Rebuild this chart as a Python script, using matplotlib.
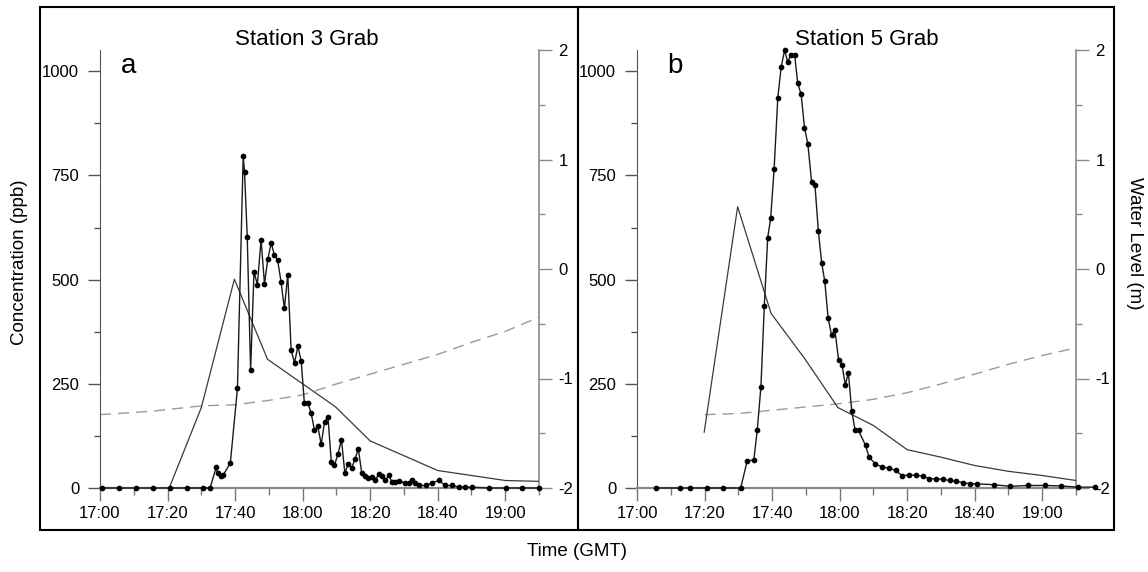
import numpy as np
import matplotlib
matplotlib.use('Agg')
import matplotlib.pyplot as plt
from matplotlib.patches import Rectangle
from matplotlib.ticker import FixedLocator

plt.rcParams['font.family'] = ['Liberation Sans', 'DejaVu Sans']
plt.rcParams['axes.unicode_minus'] = False

## Station 3 grab samples (minutes after 17:00 GMT, ppb)
t3 = [0.6, 5.6, 10.8, 15.7, 20.6, 25.7, 30.6, 32.6, 34.4, 34.8, 35.8, 36.4, 38.6, 40.7,
      42.4, 42.8, 43.6, 44.6, 45.6, 46.6, 47.7, 48.7, 49.7, 50.7, 51.6, 52.6, 53.6, 54.6,
      55.6, 56.6, 57.6, 58.6, 59.6, 60.5, 61.5, 62.5, 63.5, 64.5, 65.5, 66.5, 67.5, 68.5,
      69.4, 70.5, 71.5, 72.5, 73.5, 74.5, 75.5, 76.5, 77.5, 78.5, 79.4, 80.4, 81.5, 82.5,
      83.5, 84.5, 85.5, 86.5, 87.5, 88.4, 90.4, 91.4, 92.4, 93.4, 94.4, 96.4, 98.3, 100.3,
      102.3, 104.3, 106.3, 108.2, 110.2, 115.2, 120.1, 125.0, 130.0]
c3 = [0, 0, 0, 0, 0, 0, 0, 0, 50, 35, 28, 30, 60, 239,
      796, 758, 603, 283, 519, 488, 596, 490, 550, 588, 560, 547, 495, 431,
      512, 331, 300, 340, 304, 205, 205, 181, 139, 148, 105, 159, 171, 62,
      54, 82, 116, 36, 58, 48, 69, 94, 36, 28, 24, 26, 18, 33,
      28, 18, 30, 14, 14, 17, 12, 12, 18, 13, 6, 6, 12, 18,
      6, 6, 2, 2, 2, 0, 0, 0, 0]

## Station 3 solid curve (ppb)
t3_line = [20.5, 30.0, 39.8, 49.6, 69.7, 80.0, 100.0, 120.0, 130.0]
c3_line = [0, 193, 501, 309, 195, 113, 42, 18, 16]

## Station 3 water level (m)
t3_wl = [0, 15, 30, 40, 50, 60, 70, 80, 90, 100, 110, 120, 130]
wl3 = [-1.33, -1.30, -1.25, -1.24, -1.20, -1.15, -1.05, -0.96, -0.87, -0.78, -0.67, -0.57, -0.44]

## Station 5 grab samples (minutes after 17:00 GMT, ppb)
t5 = [5.7, 12.7, 15.6, 20.6, 25.6, 30.7, 32.6, 34.6, 35.6, 36.7, 37.7, 38.7, 39.6, 40.6,
      41.7, 42.7, 43.7, 44.6, 45.6, 46.7, 47.6, 48.6, 49.6, 50.6, 51.7, 52.7, 53.7, 54.7,
      55.6, 56.6, 57.6, 58.6, 59.7, 60.7, 61.7, 62.6, 63.6, 64.6, 65.6, 67.7, 68.7, 70.6,
      72.6, 74.6, 76.6, 78.6, 80.6, 82.6, 84.6, 86.6, 88.6, 90.5, 92.7, 94.6, 96.6, 98.6,
      100.6, 105.6, 110.6, 115.7, 120.7, 125.6, 130.7, 135.7]
c5 = [0, 0, 0, 0, 0, 0, 64, 68, 138, 243, 437, 600, 649, 765,
      937, 1010, 1051, 1023, 1039, 1038, 971, 945, 865, 825, 735, 727, 617, 540,
      496, 408, 367, 379, 307, 296, 247, 277, 184, 138, 138, 102, 74, 58,
      50, 48, 42, 29, 32, 30, 29, 22, 22, 21, 18, 16, 13, 10,
      10, 8, 4, 6, 6, 5, 2, 2]

## Station 5 solid curve (ppb)
t5_line = [19.9, 29.8, 39.7, 49.7, 59.5, 70.0, 80.0, 90.0, 100.0, 110.0, 120.0, 130.0]
c5_line = [134, 675, 419, 310, 193, 150, 92, 74, 54, 40, 30, 18]

## Station 5 water level (m)
t5_wl = [20, 30, 40, 50, 60, 70, 80, 90, 100, 110, 120, 130]
wl5 = [-1.33, -1.32, -1.29, -1.26, -1.23, -1.19, -1.13, -1.05, -0.96, -0.87, -0.79, -0.72]

time_ticks = [0, 20, 40, 60, 80, 100, 120]
time_labels = ['17:00', '17:20', '17:40', '18:00', '18:20', '18:40', '19:00']
conc_ticks = [0, 250, 500, 750, 1000]
level_ticks = [-2, -1, 0, 1, 2]

W, H = 1148, 572
fig = plt.figure(figsize=(W / 100, H / 100), dpi=100)


def panel(x_left, t, c, tl, cl, tw, wl):
    ax = fig.add_axes([x_left / W, (H - 488) / H, 439 / W, 438 / H])
    ax.plot(tl, cl, color='#3a3a3a', lw=0.9, zorder=3)
    ax.plot(t, c, color='#1a1a1a', lw=1.0, marker='o', ms=3.1,
            mfc='black', mec='black', clip_on=False, zorder=5)
    ax.set_xlim(0, 130)
    ax.set_ylim(0, 1051)
    ax.patch.set_visible(False)

    ax.xaxis.set_major_locator(FixedLocator(time_ticks))
    ax.xaxis.set_minor_locator(FixedLocator(np.arange(10, 131, 20)))
    ax.set_xticklabels(time_labels)
    ax.yaxis.set_major_locator(FixedLocator(conc_ticks))
    ax.yaxis.set_minor_locator(FixedLocator([125, 375, 625, 875]))

    for s in ['top', 'right']:
        ax.spines[s].set_visible(False)
    ax.spines['left'].set_color('#555555')
    ax.spines['bottom'].set_color('#8a8a8a')
    ax.spines['bottom'].set_linewidth(1.6)

    ax.tick_params(axis='x', which='major', direction='out', length=9, width=1,
                   color='#777777', labelsize=12, pad=4)
    ax.tick_params(axis='x', which='minor', direction='out', length=5, width=1,
                   color='#777777')
    ax.tick_params(axis='y', which='major', direction='out', length=9, width=1,
                   color='#555555', labelsize=12, pad=6)
    ax.tick_params(axis='y', which='minor', direction='out', length=4.5, width=1,
                   color='#555555')

    ## water level on the right axis
    ax2 = ax.twinx()
    ax2.plot(tw, wl, color='#9a9a9a', lw=1.0, dashes=(8, 5))
    ax2.set_ylim(-2, 2)
    ax2.set_xlim(0, 130)
    ax2.yaxis.set_major_locator(FixedLocator(level_ticks))
    ax2.yaxis.set_minor_locator(FixedLocator([-1.5, -0.5, 0.5, 1.5]))
    for s in ['top', 'left', 'bottom']:
        ax2.spines[s].set_visible(False)
    ax2.spines['right'].set_color('#8a8a8a')
    ax2.spines['right'].set_linewidth(1.2)
    ax2.tick_params(axis='y', which='major', direction='out', length=9, width=1,
                    color='#8a8a8a', labelsize=12, pad=5)
    ax2.tick_params(axis='y', which='minor', direction='out', length=4.5, width=1,
                    color='#8a8a8a')
    ax.set_zorder(ax2.get_zorder() + 1)
    return ax, ax2


panel(100, t3, c3, t3_line, c3_line, t3_wl, wl3)
panel(637, t5, c5, t5_line, c5_line, t5_wl, wl5)

## panel frames
fig.add_artist(Rectangle((39.5 / W, (H - 530) / H), (578 - 39.5) / W, 523 / H,
                         transform=fig.transFigure, fill=False, ec='black', lw=1.5))
fig.add_artist(Rectangle((578 / W, (H - 530) / H), (1114 - 578) / W, 523 / H,
                         transform=fig.transFigure, fill=False, ec='black', lw=1.5))

## titles and panel letters
fig.text(307 / W, (H - 45) / H, 'Station 3 Grab', ha='center', va='baseline', fontsize=16)
fig.text(867 / W, (H - 45) / H, 'Station 5 Grab', ha='center', va='baseline', fontsize=16)
fig.text(121 / W, (H - 73) / H, 'a', ha='left', va='baseline', fontsize=20)
fig.text(667 / W, (H - 73) / H, 'b', ha='left', va='baseline', fontsize=20)

fig.text(20 / W, (H - 262) / H, 'Concentration (ppb)', rotation=90,
         ha='center', va='center', fontsize=13.5)
fig.text(1135 / W, (H - 243) / H, 'Water Level (m)', rotation=270,
         ha='center', va='center', fontsize=13.5)
fig.text(577 / W, (H - 552) / H, 'Time (GMT)', ha='center', va='center', fontsize=13.5)

fig.savefig('out.png', dpi=100)
